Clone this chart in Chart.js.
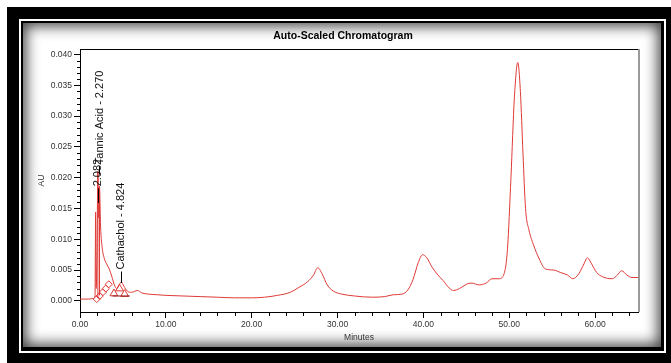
<!DOCTYPE html>
<html>
<head>
<meta charset="utf-8">
<script src="https://cdn.jsdelivr.net/npm/chart.js@4.4.1/dist/chart.umd.min.js"></script>
<style>
  html, body { margin: 0; padding: 0; background: #fff; }
  body { width: 671px; height: 363px; position: relative; overflow: hidden; }
  #frame { position: absolute; left: 7px; top: 7px; width: 664px; height: 356px; background: #000; }
  #rim { position: absolute; left: 19px; top: 19px; width: 647px; height: 334px; border: 2px solid #fff; box-sizing: border-box; }
  #panel { position: absolute; left: 23px; top: 23px; width: 638px; height: 324px; background: #fff;
           box-shadow: inset 0 0 14px 3px rgba(0, 0, 0, 0.75); }
  #chromatogram { position: absolute; left: 0; top: 0; }
</style>
</head>
<body>
<div id="frame"></div>
<div id="rim"></div>
<div id="panel"></div>
<canvas id="chromatogram" width="671" height="363"></canvas>
<script>
// detector trace (minutes vs AU)
const minutes = [
  0, 1.0, 1.6, 1.75, 1.82, 1.88, 1.98, 2.08, 2.17, 2.27, 2.4, 2.6, 2.85, 3.1, 3.4, 3.7,
  4.0, 4.3, 4.6, 4.82, 5.1, 5.5, 6.0, 6.7, 7.2, 8, 9, 10, 12, 14, 16, 18, 20, 21.5,
  23, 24.5, 25.5, 26.5, 27.2, 27.7, 28.2, 28.8, 29.5, 30.5, 32, 34, 35.5, 36.5, 37.5,
  38.2, 38.8, 39.4, 39.9, 40.4, 41, 41.7, 42.3, 43.0, 43.5, 44.2, 45.0, 45.6, 46.5,
  47.3, 48.0, 48.8, 49.4, 49.8, 50.2, 50.6, 51.0, 51.3, 51.6, 51.9, 52.3, 52.8, 53.5,
  54.2, 55.2, 56.0, 56.8, 57.4, 58.1, 58.7, 59.1, 59.6, 60.2, 60.9, 62.0, 62.6, 63.1,
  63.7, 64.3, 65.0
];
const absorbance = [
  0.0003, 0.0003, 0.0004, 0.0008, 0.0144, 0.0020, 0.0080, 0.0210, 0.0135, 0.0186, 0.0120,
  0.0085, 0.0068, 0.0060, 0.0052, 0.0040, 0.0026, 0.0020, 0.0027, 0.0031, 0.0024, 0.0016,
  0.0014, 0.0017, 0.0013, 0.0011, 0.0010, 0.0009, 0.0008, 0.0007, 0.0006, 0.0005, 0.0005,
  0.0006, 0.0009, 0.0014, 0.0022, 0.0031, 0.0042, 0.0054, 0.0044, 0.0026, 0.0016, 0.0011,
  0.0008, 0.0006, 0.0007, 0.0010, 0.0011, 0.0018, 0.0035, 0.0062, 0.0075, 0.0070, 0.0055,
  0.0042, 0.0033, 0.0021, 0.0017, 0.0020, 0.0027, 0.0029, 0.0026, 0.0029, 0.0036, 0.0036,
  0.0044, 0.0085, 0.0200, 0.0330, 0.0387, 0.0340, 0.0240, 0.0150, 0.0115, 0.0092, 0.0068,
  0.0052, 0.0050, 0.0046, 0.0042, 0.0036, 0.0044, 0.0060, 0.0070, 0.0060, 0.0046, 0.0039,
  0.0036, 0.0042, 0.0049, 0.0042, 0.0038, 0.0038
];

// integration marks
const peakStartTimes = [1.95, 2.3, 2.65, 3.0, 3.35];
const peakStartAU = [0.0003, 0.0008, 0.0014, 0.0020, 0.0027];
const peakEndTimes = [3.95, 4.6, 5.2];
const peakEndAU = [0.0012, 0.0020, 0.0011];
const dropTimes = [2.082, 2.270];
const dropTopAU = [0.0210, 0.0186];
const dropBaseAU = [0.0005, 0.0009];
const baseTimes = [3.8, 5.8];
const baseAU = [0.0008, 0.0008];

// peak names
const peakTimes = [2.082, 2.270, 4.824];
const peakNames = ["2.082", "Tannic Acid - 2.270", "Cathachol - 4.824"];
const labelAU = [0.0186, 0.0222, 0.0051];
const connectorAU = [0.0159, 0.0205, 0.0029];

const xTicks = [0, 10, 20, 30, 40, 50, 60];
const yTicks = [0, 0.005, 0.010, 0.015, 0.020, 0.025, 0.030, 0.035, 0.040];

const traceRed = "#de3a36";
const tickFont = { family: "'Liberation Sans Narrow', 'Liberation Sans', Arial, sans-serif", size: 8.5 };

const trace = minutes.map((t, i) => ({ x: t, y: absorbance[i] }));
const drops = [];
dropTimes.forEach((t, i) => {
  drops.push({ x: t, y: dropBaseAU[i] }, { x: t, y: dropTopAU[i] }, { x: t, y: null });
});

const decor = {
  id: "decor",
  afterDraw(chart) {
    const ctx = chart.ctx;
    const a = chart.chartArea;
    const xs = chart.scales.x;
    const ys = chart.scales.y;
    ctx.save();

    // top and right edge of plot box
    ctx.strokeStyle = "#000";
    ctx.lineWidth = 1;
    ctx.beginPath();
    ctx.moveTo(a.left, a.top + 0.5);
    ctx.lineTo(a.right, a.top + 0.5);
    ctx.stroke();
    ctx.strokeStyle = "#9a9a9a";
    ctx.lineWidth = 2;
    ctx.beginPath();
    ctx.moveTo(a.right + 1, a.top);
    ctx.lineTo(a.right + 1, a.bottom);
    ctx.stroke();

    // minor ticks
    ctx.strokeStyle = "#000";
    ctx.lineWidth = 1;
    ctx.beginPath();
    for (let k = 1; k < 40; k++) {
      if (k % 5 === 0) continue;
      const py = Math.round(ys.getPixelForValue(k / 1000)) + 0.5;
      ctx.moveTo(a.left - 3, py);
      ctx.lineTo(a.left, py);
    }
    for (let m = 2; m <= 64; m += 2) {
      if (m % 10 === 0) continue;
      const px = Math.round(xs.getPixelForValue(m)) + 0.5;
      ctx.moveTo(px, a.bottom);
      ctx.lineTo(px, a.bottom + 4);
    }
    ctx.stroke();

    // peak names, written bottom-to-top
    ctx.fillStyle = "#111";
    ctx.font = "11px 'Liberation Sans', Arial, sans-serif";
    ctx.textAlign = "left";
    ctx.textBaseline = "middle";
    peakTimes.forEach((t, i) => {
      const px = xs.getPixelForValue(t);
      const pyLabel = ys.getPixelForValue(labelAU[i]);
      const pyEnd = ys.getPixelForValue(connectorAU[i]);
      ctx.beginPath();
      ctx.moveTo(Math.round(px) + 0.5, pyLabel + 2);
      ctx.lineTo(Math.round(px) + 0.5, pyEnd);
      ctx.stroke();
      ctx.save();
      ctx.translate(px, pyLabel);
      ctx.rotate(-Math.PI / 2);
      ctx.fillText(peakNames[i], 0, 0);
      ctx.restore();
    });

    // chart title
    ctx.fillStyle = "#000";
    ctx.font = "bold 10.5px 'Liberation Sans', Arial, sans-serif";
    ctx.textAlign = "center";
    ctx.fillText("Auto-Scaled Chromatogram", 343, 36);
    ctx.restore();
  }
};

new Chart(document.getElementById("chromatogram"), {
  type: "line",
  data: {
    datasets: [
      {
        data: trace,
        borderColor: traceRed,
        borderWidth: 1,
        pointRadius: 0,
        cubicInterpolationMode: "monotone",
      },
      {
        data: drops,
        borderColor: traceRed,
        borderWidth: 1,
        pointRadius: 0,
        spanGaps: false,
      },
      {
        data: baseTimes.map((t, i) => ({ x: t, y: baseAU[i] })),
        borderColor: "#8b1a1a",
        borderWidth: 1,
        pointRadius: 0,
      },
      {
        data: peakStartTimes.map((t, i) => ({ x: t, y: peakStartAU[i] })),
        showLine: false,
        pointStyle: "rectRot",
        pointRadius: 3.5,
        pointBorderColor: traceRed,
        pointBackgroundColor: "rgba(255,255,255,0)",
        pointBorderWidth: 1,
      },
      {
        data: peakEndTimes.map((t, i) => ({ x: t, y: peakEndAU[i] })),
        showLine: false,
        pointStyle: "triangle",
        pointRadius: 4.5,
        pointBorderColor: traceRed,
        pointBackgroundColor: "rgba(255,255,255,0)",
        pointBorderWidth: 1,
      },
    ],
  },
  options: {
    responsive: false,
    animation: false,
    devicePixelRatio: 1,
    layout: { padding: { top: 49, right: 33, left: 0, bottom: 0 } },
    plugins: {
      legend: { display: false },
      tooltip: { enabled: false },
    },
    scales: {
      x: {
        type: "linear",
        min: 0,
        max: 65,
        afterFit: (scale) => { scale.height = 51; },
        afterBuildTicks: (scale) => { scale.ticks = xTicks.map((v) => ({ value: v })); },
        ticks: {
          color: "#333",
          font: tickFont,
          padding: 2,
          maxRotation: 0,
          callback: (v) => Number(v).toFixed(2),
        },
        grid: { drawOnChartArea: false, tickLength: 6, color: "#000" },
        border: { color: "#000", width: 1 },
        title: {
          display: true,
          text: "Minutes",
          color: "#333",
          font: tickFont,
          padding: { top: 0, bottom: 20 },
        },
      },
      y: {
        min: -0.0018,
        max: 0.0409,
        afterFit: (scale) => { scale.width = 80; },
        afterBuildTicks: (scale) => { scale.ticks = yTicks.map((v) => ({ value: v })); },
        ticks: {
          color: "#333",
          font: tickFont,
          padding: 2,
          callback: (v) => Number(v).toFixed(3),
        },
        grid: { drawOnChartArea: false, tickLength: 6, color: "#000" },
        border: { color: "#000", width: 1 },
        title: {
          display: true,
          text: "AU",
          color: "#333",
          font: tickFont,
          padding: { top: 37, bottom: 0 },
        },
      },
    },
  },
  plugins: [decor],
});
</script>
</body>
</html>
